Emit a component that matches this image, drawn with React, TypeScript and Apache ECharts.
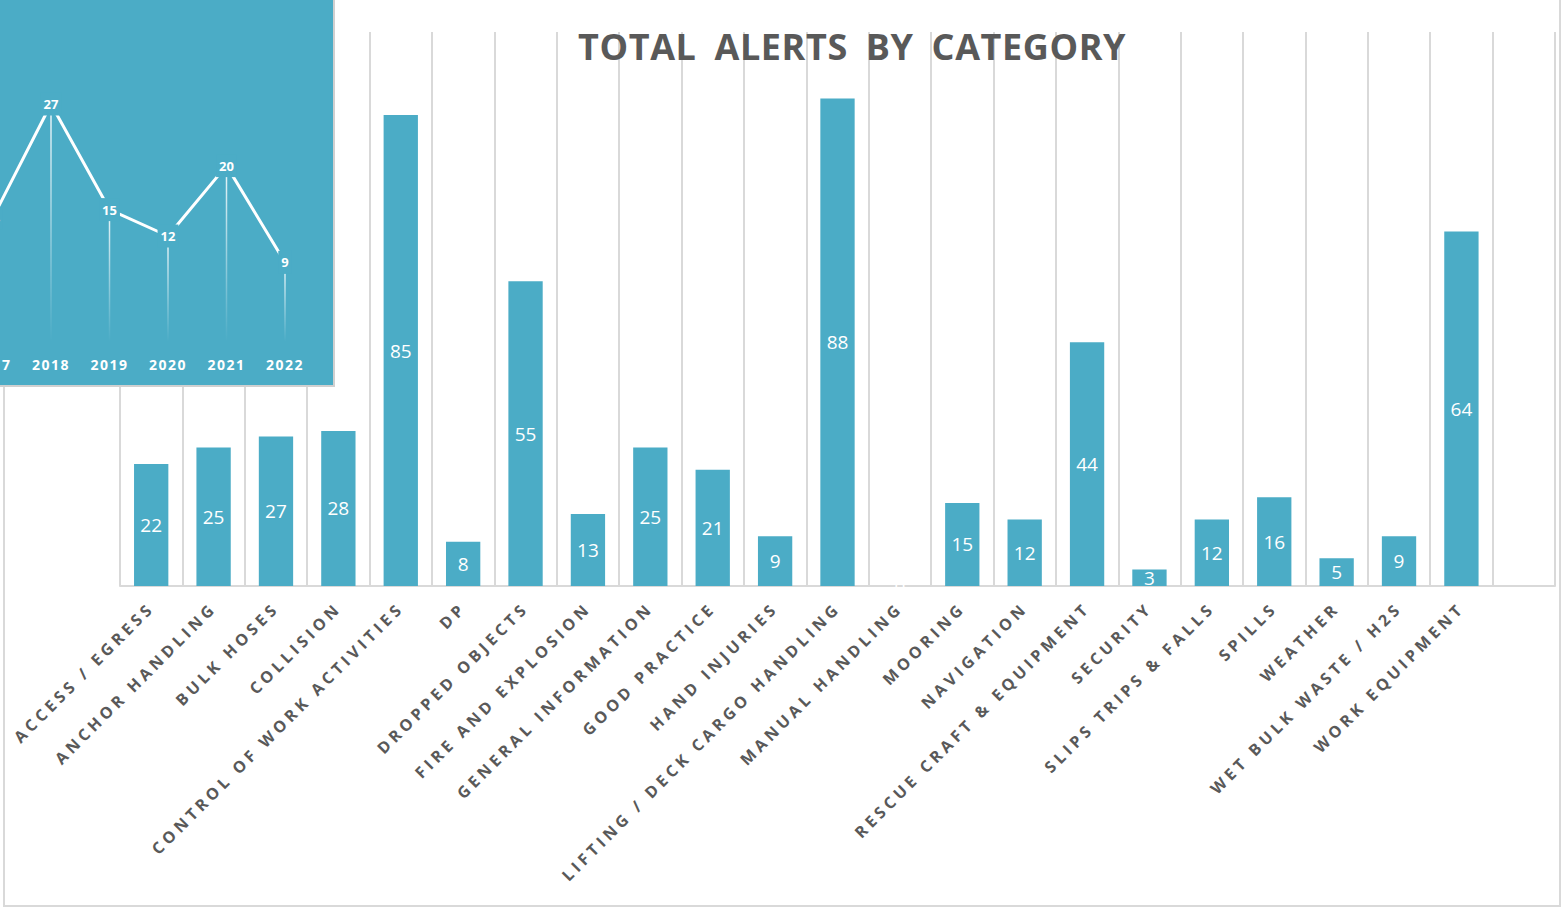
import React, { useEffect, useRef } from "react";
import * as echarts from "echarts";

const categories = [
  "ACCESS / EGRESS",
  "ANCHOR HANDLING",
  "BULK HOSES",
  "COLLISION",
  "CONTROL OF WORK ACTIVITIES",
  "DP",
  "DROPPED OBJECTS",
  "FIRE AND EXPLOSION",
  "GENERAL INFORMATION",
  "GOOD PRACTICE",
  "HAND INJURIES",
  "LIFTING / DECK CARGO HANDLING",
  "MANUAL HANDLING",
  "MOORING",
  "NAVIGATION",
  "RESCUE CRAFT & EQUIPMENT",
  "SECURITY",
  "SLIPS TRIPS & FALLS",
  "SPILLS",
  "WEATHER",
  "WET BULK WASTE / H2S",
  "WORK EQUIPMENT",
];
const alerts = [22, 25, 27, 28, 85, 8, 55, 13, 25, 21, 9, 88, 0, 15, 12, 44, 3, 12, 16, 5, 9, 64];

const years = ["2017", "2018", "2019", "2020", "2021", "2022"];
const yearlyAlerts = [14, 27, 15, 12, 20, 9];

const TEAL = "#4BACC6";
const GREY_TEXT = "#595959";
const GRID_GREY = "#d9d9d9";
const FONT = "Open Sans";

export default function App() {
  const ref = useRef<HTMLDivElement>(null);

  useEffect(() => {
    if (!ref.current) return;
    const chart = echarts.init(ref.current, null, { renderer: "svg" });
    chart.setOption({
      animation: false,
      backgroundColor: "#ffffff",
      title: {
        text: "TOTAL ALERTS BY CATEGORY",
        left: 573,
        top: 23,
        textStyle: { fontFamily: FONT, fontSize: 36, fontWeight: "bold", color: GREY_TEXT },
      },
      grid: [
        { left: 120, right: 8, top: 32, bottom: 322, outerBoundsMode: "none" },
        { left: -36.75, right: 1248.75, top: 77.6, bottom: 566.4, outerBoundsMode: "none" },
      ],
      xAxis: [
        {
          type: "category",
          gridIndex: 0,
          data: [...categories, ""],
          axisLine: { show: true, lineStyle: { color: GRID_GREY, width: 2 } },
          axisTick: { show: false },
          splitLine: { show: true, interval: 0, lineStyle: { color: GRID_GREY, width: 2 } },
          axisLabel: {
            interval: 0,
            rotate: 45,
            margin: 19,
            fontFamily: FONT,
            fontSize: 16,
            fontWeight: "bold",
            color: GREY_TEXT,
          },
        },
        {
          type: "category",
          gridIndex: 1,
          data: years,
          z: 13,
          axisLine: { show: false },
          axisTick: { show: false },
          splitLine: { show: false },
          axisLabel: {
            interval: 0,
            margin: 16,
            fontFamily: FONT,
            fontSize: 14,
            fontWeight: "bold",
            color: "#ffffff",
          },
        },
      ],
      yAxis: [
        { type: "value", gridIndex: 0, min: 0, max: 100, show: false },
        { type: "value", gridIndex: 1, min: 0, max: 30, show: false },
      ],
      graphic: [
        {
          type: "rect",
          z: 1,
          silent: true,
          shape: { x: 4, y: -2, width: 1556, height: 908 },
          style: { fill: "none", stroke: GRID_GREY, lineWidth: 2 },
        },
        {
          type: "rect",
          z: 10,
          silent: true,
          shape: { x: -3, y: -3, width: 337, height: 389 },
          style: { fill: TEAL, stroke: "#d0d0d0", lineWidth: 2 },
        },
      ],
      series: [
        {
          type: "bar",
          xAxisIndex: 0,
          yAxisIndex: 0,
          data: [...alerts, null],
          barWidth: "55%",
          itemStyle: { color: TEAL },
          label: {
            show: true,
            position: "inside",
            fontFamily: FONT,
            fontSize: 19,
            color: "#ffffff",
          },
        },
        {
          type: "bar",
          xAxisIndex: 1,
          yAxisIndex: 1,
          z: 11,
          data: yearlyAlerts,
          barWidth: 1.5,
          itemStyle: {
            color: new echarts.graphic.LinearGradient(0, 0, 0, 1, [
              { offset: 0, color: "rgba(255,255,255,0.9)" },
              { offset: 1, color: "rgba(255,255,255,0)" },
            ]),
          },
        },
        {
          type: "line",
          xAxisIndex: 1,
          yAxisIndex: 1,
          z: 12,
          data: yearlyAlerts,
          symbol: "circle",
          symbolSize: 1,
          itemStyle: { color: TEAL },
          lineStyle: { color: "#ffffff", width: 3 },
          label: {
            show: true,
            position: "inside",
            fontFamily: FONT,
            fontSize: 13,
            fontWeight: "bold",
            color: "#ffffff",
            backgroundColor: TEAL,
            padding: [5, 3],
          },
        },
      ],
    });
    return () => chart.dispose();
  }, []);

  return (
    <>
      <style>{`
        .chartbox text[style*="16px"] { letter-spacing: 4px; }
        .chartbox text[style*="36px"] { letter-spacing: 0.6px; word-spacing: 8px; }
        .chartbox text[style*="14px"] { letter-spacing: 1.5px; }
      `}</style>
      <div
        ref={ref}
        className="chartbox"
        style={{ position: "absolute", left: 0, top: 0, width: 1563, height: 908 }}
      />
    </>
  );
}
